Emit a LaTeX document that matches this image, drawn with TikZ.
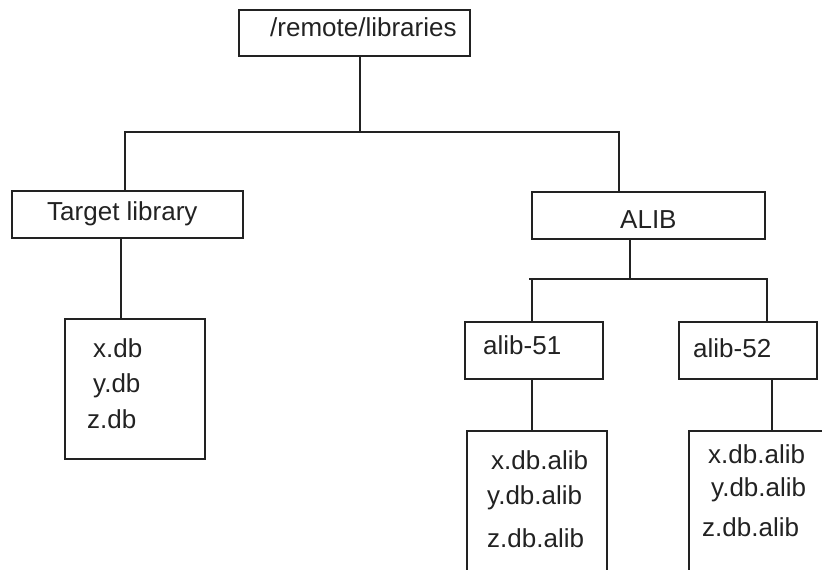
\documentclass[tikz,border=0pt]{standalone}
\usepackage{fontspec}
\setmainfont{Liberation Sans}
\definecolor{ink}{HTML}{222222}
\begin{document}
\begin{tikzpicture}[x=1pt,y=-1pt,
  box/.style={draw=ink, line width=2.4pt, inner sep=0pt, rectangle},
  lbl/.style={anchor=base west, inner sep=0pt, text=ink, font=\fontsize{26}{28}\selectfont},
  conn/.style={draw=ink, line width=2.4pt}]
\useasboundingbox (0,0) rectangle (822,570);
\clip (0,0) rectangle (822,570);
% boxes
\node[box, minimum width=231pt, minimum height=46pt] (root) at (354.5,33) {};
\node[box, minimum width=231pt, minimum height=47pt] (tgt) at (127.5,214.5) {};
\node[box, minimum width=233pt, minimum height=47pt] (alib) at (648.5,215.5) {};
\node[box, minimum width=140pt, minimum height=140pt] (xdb) at (135,389) {};
\node[box, minimum width=138pt, minimum height=57pt] (a51) at (534,350.5) {};
\node[box, minimum width=138pt, minimum height=57pt] (a52) at (748,350.5) {};
\node[box, minimum width=140pt, minimum height=170pt] (b51) at (537,516) {};
\node[box, minimum width=142pt, minimum height=170pt] (b52) at (760,516) {};
% labels
\node[lbl] (troot) at (270,36) {/remote/libraries};
\node[lbl] (ttgt) at (47,220) {Target library};
\node[lbl] (talib) at (620,228) {ALIB};
\node[lbl] (ta51) at (483,354) {alib-51};
\node[lbl] (ta52) at (693,357) {alib-52};
\node[lbl] (tx) at (93,357) {x.db};
\node[lbl] (ty) at (93,392) {y.db};
\node[lbl] (tz) at (87,428) {z.db};
\node[lbl] (tx1) at (491,469) {x.db.alib};
\node[lbl] (ty1) at (487,504) {y.db.alib};
\node[lbl] (tz1) at (487,547) {z.db.alib};
\node[lbl] (tx2) at (708,463) {x.db.alib};
\node[lbl] (ty2) at (711,496) {y.db.alib};
\node[lbl] (tz2) at (702,536) {z.db.alib};
% junction coordinates
\coordinate (j1) at (360,132);
\coordinate (cL) at (125,132);
\coordinate (cR) at (619,132);
\coordinate (j2) at (630,279);
\coordinate (dL) at (532,279);
\coordinate (dR) at (767,279);
\coordinate (dLe) at (529,279);
\coordinate (dRe) at (768,279);
\coordinate (k1) at (121,0);
\coordinate (k2) at (532,0);
\coordinate (k3) at (772,0);
% connectors
\draw[conn] (root.south -| j1) -- (j1);
\draw[conn] (tgt.north -| cL) -- (cL) -- (cR) -- (alib.north -| cR);
\draw[conn] (alib.south -| j2) -- (j2);
\draw[conn] (dLe) -- (dRe);
\draw[conn] (dL) -- (a51.north -| dL);
\draw[conn] (dR) -- (a52.north -| dR);
\draw[conn] (tgt.south -| k1) -- (xdb.north -| k1);
\draw[conn] (a51.south -| k2) -- (b51.north -| k2);
\draw[conn] (a52.south -| k3) -- (b52.north -| k3);
\end{tikzpicture}
\end{document}
